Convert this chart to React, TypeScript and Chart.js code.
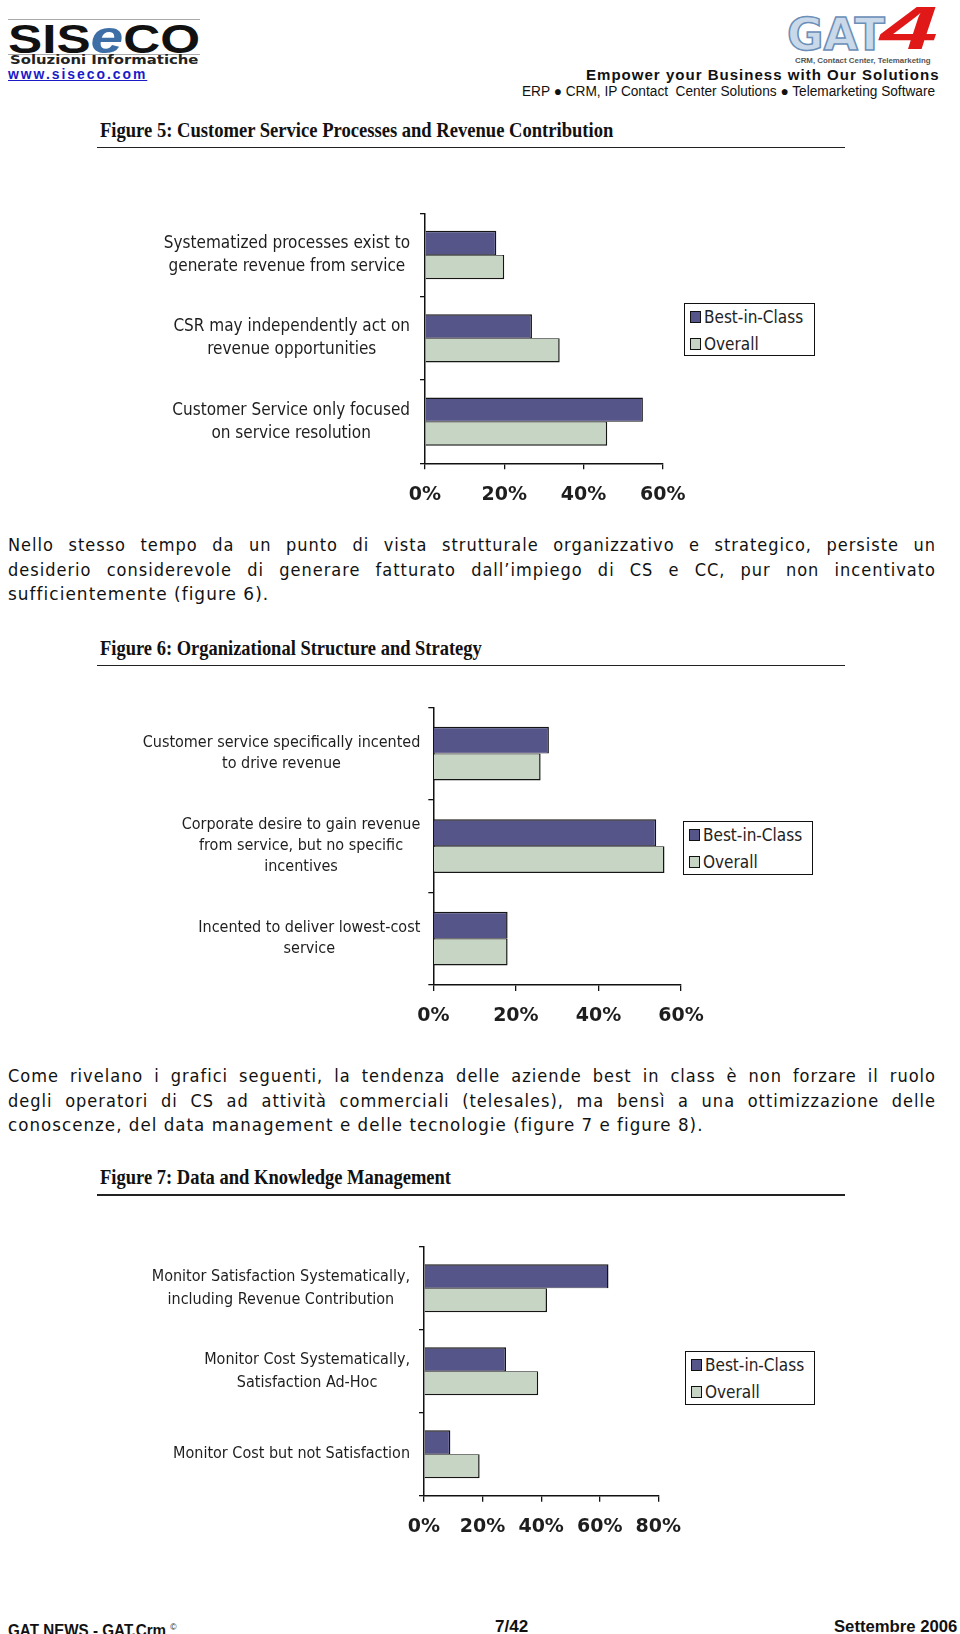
import React, { useEffect, useLayoutEffect, useRef, useState } from 'react';
import { Chart, registerables } from 'chart.js';

Chart.register(...registerables);

// ---------------- data ----------------
const SERIES_NAMES = ['Best-in-Class', 'Overall'];
const SERIES_COLORS = ['#56558a', '#c7d6c4'];

const fig5Categories = [
  ['Systematized processes exist to', 'generate revenue from service'],
  ['CSR may independently act on', 'revenue opportunities'],
  ['Customer Service only focused', 'on service resolution'],
];
const fig5BestInClass = [18, 27, 55];
const fig5Overall = [20, 34, 46];
const fig5TickValues = [0, 20, 40, 60];
const fig5TickLabels = ['0%', '20%', '40%', '60%'];

const fig6Categories = [
  ['Customer service specifically incented', 'to drive revenue'],
  ['Corporate desire to gain revenue', 'from service, but no specific', 'incentives'],
  ['Incented to deliver lowest-cost', 'service'],
];
const fig6BestInClass = [28, 54, 18];
const fig6Overall = [26, 56, 18];
const fig6TickValues = [0, 20, 40, 60];
const fig6TickLabels = ['0%', '20%', '40%', '60%'];

const fig7Categories = [
  ['Monitor Satisfaction Systematically,', 'including Revenue Contribution'],
  ['Monitor Cost Systematically,', 'Satisfaction Ad-Hoc'],
  ['Monitor Cost but not Satisfaction'],
];
const fig7BestInClass = [63, 28, 9];
const fig7Overall = [42, 39, 19];
const fig7TickValues = [0, 20, 40, 60, 80];
const fig7TickLabels = ['0%', '20%', '40%', '60%', '80%'];

// ---------------- helpers ----------------
const COND = '"DejaVu Sans Condensed", "DejaVu Sans", sans-serif';
const SERIF = '"Liberation Serif", "Times New Roman", serif';
const ARIAL = '"Liberation Sans", Arial, sans-serif';

function Fit(props: any) {
  const { x, cy, w, size, family = ARIAL, weight = 400, color = '#111', style = {}, children } = props;
  const ref = useRef<HTMLSpanElement>(null);
  const [s, setS] = useState(1);
  useLayoutEffect(() => {
    const el = ref.current;
    if (!el) return;
    const measure = () => {
      const nat = el.offsetWidth;
      if (nat > 0) setS(w / nat);
    };
    measure();
    let alive = true;
    const fonts = (document as any).fonts;
    if (fonts && fonts.ready) fonts.ready.then(() => alive && measure());
    const ro = new ResizeObserver(() => alive && measure());
    ro.observe(el);
    return () => {
      alive = false;
      ro.disconnect();
    };
  }, [w, size, family]);
  return (
    <span
      ref={ref}
      style={{
        position: 'absolute',
        left: x,
        top: cy - size / 2,
        lineHeight: `${size}px`,
        fontSize: size,
        fontFamily: family,
        fontWeight: weight,
        color,
        whiteSpace: 'nowrap',
        transformOrigin: 'left center',
        transform: `scaleX(${s})`,
        ...style,
      }}
    >
      {children}
    </span>
  );
}

function JLine({ cy, text }: { cy: number; text: string }) {
  return (
    <div
      style={{
        position: 'absolute',
        left: 8,
        top: cy - 12.5,
        width: 928,
        lineHeight: '25px',
        fontSize: 18,
        letterSpacing: 1.0,
        fontFamily: COND,
        color: '#111',
        textAlign: 'justify',
        textAlignLast: 'justify' as any,
      }}
    >
      {text}
    </div>
  );
}

function Legend({ x, y, w, h }: { x: number; y: number; w: number; h: number }) {
  return (
    <div
      style={{
        position: 'absolute',
        left: x,
        top: y,
        width: w,
        height: h,
        border: '1.5px solid #111',
        boxSizing: 'border-box',
        background: '#fff',
        fontFamily: COND,
        fontSize: 17,
        color: '#222',
      }}
    >
      {SERIES_NAMES.map((n, i) => (
        <div
          key={n}
          style={{
            position: 'absolute',
            left: 5,
            top: (i === 0 ? 13 : 40) - 9,
            height: 18,
            lineHeight: '18px',
            display: 'flex',
            alignItems: 'center',
            whiteSpace: 'nowrap',
          }}
        >
          <span
            style={{
              display: 'inline-block',
              width: 11,
              height: 12,
              boxSizing: 'border-box',
              border: '1.3px solid #111',
              background: SERIES_COLORS[i],
              marginRight: 3,
            }}
          />
          {n}
        </div>
      ))}
    </div>
  );
}

type FigProps = {
  cats: string[][];
  bic: number[];
  ovr: number[];
  tickValues: number[];
  tickLabels: string[];
  canvasTop: number;
  canvasH: number;
  plotLeft: number;
  plotRight: number;
  plotTop: number;
  plotBottom: number;
  labelSize: number;
  labelLH: number;
  labelGap: number;
};

function BarFigure(p: FigProps) {
  const ref = useRef<HTMLCanvasElement>(null);
  useEffect(() => {
    const c = ref.current!;
    const yLabelPlugin = {
      id: 'yLabels',
      afterDraw(chart: any) {
        const ctx = chart.ctx;
        const ys = chart.scales.y;
        ctx.save();
        ctx.font = `${p.labelSize}px ${COND}`;
        ctx.fillStyle = '#1e1e1e';
        ctx.textAlign = 'center';
        ctx.textBaseline = 'middle';
        p.cats.forEach((lines, i) => {
          const cy = ys.getPixelForTick(i);
          const maxW = Math.max(...lines.map((l) => ctx.measureText(l).width));
          const cx = chart.chartArea.left - p.labelGap - maxW / 2;
          lines.forEach((l, j) => ctx.fillText(l, cx, cy + (j - (lines.length - 1) / 2) * p.labelLH));
        });
        ctx.restore();
      },
    };
    const step = p.tickValues[1] - p.tickValues[0];
    const chart = new Chart(c, {
      type: 'bar',
      data: {
        labels: p.cats as any,
        datasets: [
          {
            label: SERIES_NAMES[0],
            data: p.bic,
            backgroundColor: SERIES_COLORS[0],
            borderColor: '#151515',
            borderWidth: { top: 1.5, right: 1.5, bottom: 0.8, left: 0 } as any,
            borderSkipped: false as any,
          },
          {
            label: SERIES_NAMES[1],
            data: p.ovr,
            backgroundColor: SERIES_COLORS[1],
            borderColor: '#151515',
            borderWidth: { top: 0.8, right: 1.5, bottom: 1.5, left: 0 } as any,
            borderSkipped: false as any,
          },
        ],
      },
      options: {
        indexAxis: 'y',
        responsive: false,
        maintainAspectRatio: false,
        animation: false,
        events: [],
        datasets: { bar: { categoryPercentage: 0.58, barPercentage: 1 } },
        layout: {
          padding: { left: 0, top: p.plotTop - p.canvasTop, right: 960 - p.plotRight, bottom: 0 },
        },
        plugins: { legend: { display: false }, tooltip: { enabled: false }, title: { display: false } },
        scales: {
          x: {
            type: 'linear',
            min: p.tickValues[0],
            max: p.tickValues[p.tickValues.length - 1],
            ticks: {
              stepSize: step,
              autoSkip: false,
              maxRotation: 0,
              callback: (_v: any, i: number) => p.tickLabels[i],
              color: '#1e1e1e',
              padding: 14,
              font: { family: '"DejaVu Sans", sans-serif', size: 19, weight: 'bold' },
            },
            grid: { drawOnChartArea: false, tickLength: 6, color: '#111', lineWidth: 1.3 },
            border: { color: '#111', width: 1.5 },
            afterFit: (s: any) => {
              s.height = p.canvasH - (p.plotBottom - p.canvasTop);
              s.paddingLeft = 0;
              s.paddingRight = 0;
            },
          },
          y: {
            ticks: { display: false },
            grid: { drawOnChartArea: false, tickLength: 5, color: '#111', lineWidth: 1.3, offset: true },
            border: { color: '#111', width: 1.5 },
            afterFit: (s: any) => {
              s.width = p.plotLeft;
              s.paddingTop = 0;
              s.paddingBottom = 0;
            },
          },
        },
      } as any,
      plugins: [yLabelPlugin],
    });
    return () => chart.destroy();
  }, []);
  return (
    <canvas
      ref={ref}
      width={960}
      height={p.canvasH}
      style={{ position: 'absolute', left: 0, top: p.canvasTop, width: 960, height: p.canvasH }}
    />
  );
}

function FigTitle({ cy, w, lineY, text }: { cy: number; w: number; lineY: number; text: string }) {
  return (
    <>
      <Fit x={100} cy={cy} w={w} size={21} family={SERIF} weight={700} color="#111">
        {text}
      </Fit>
      <div style={{ position: 'absolute', left: 97, top: lineY - 0.75, width: 748, height: 1.5, background: '#222' }} />
    </>
  );
}

export default function App() {
  return (
    <div
      style={{
        position: 'absolute',
        left: 0,
        top: 0,
        width: 960,
        height: 1634,
        overflow: 'hidden',
        background: '#fff',
      }}
    >
      {/* Header left: SISECO */}
      <div style={{ position: 'absolute', left: 8, top: 19, width: 192, height: 1, background: '#aaa' }} />
      <Fit x={8} cy={37} w={192} size={40} family={ARIAL} weight={900} color="#111">
        SIS<span style={{ color: '#3d6fa6', fontStyle: 'italic', fontSize: 46 }}>e</span>CO
      </Fit>
      <div style={{ position: 'absolute', left: 8, top: 54, width: 192, height: 1, background: '#aaa' }} />
      <Fit x={10} cy={59.5} w={188} size={12} family={'"DejaVu Sans", sans-serif'} weight={700} color="#222">
        Soluzioni Informatiche
      </Fit>
      <Fit x={8} cy={74} w={139} size={14} family={ARIAL} weight={700} color="#1a1ac8" style={{ textDecoration: 'underline', letterSpacing: 2 }}>
        www.siseco.com
      </Fit>

      {/* Header right: GAT4 */}
      <Fit x={787} cy={35} w={98} size={44} family={'"DejaVu Sans", sans-serif'} weight={700} color="#c9d9ea" style={{ WebkitTextStroke: '1.5px #6a8fb8' }}>
        GAT
      </Fit>
      <Fit x={880} cy={28} w={57} size={62} family={ARIAL} weight={700} color="#e01818" style={{ fontStyle: 'italic' }}>
        4
      </Fit>
      <Fit x={795} cy={60.5} w={135} size={7} family={ARIAL} weight={700} color="#555">
        CRM, Contact Center, Telemarketing
      </Fit>
      <Fit x={586} cy={74} w={354} size={15} family={ARIAL} weight={700} color="#111" style={{ letterSpacing: 1 }}>
        Empower your Business with Our Solutions
      </Fit>
      <Fit x={522} cy={91} w={413} size={14} family={ARIAL} weight={400} color="#111">
        ERP ● CRM, IP Contact&nbsp;&nbsp;Center Solutions ● Telemarketing Software
      </Fit>

      {/* Figure 5 */}
      <FigTitle cy={130} w={513} lineY={147.3} text="Figure 5: Customer Service Processes and Revenue Contribution" />
      <BarFigure
        cats={fig5Categories}
        bic={fig5BestInClass}
        ovr={fig5Overall}
        tickValues={fig5TickValues}
        tickLabels={fig5TickLabels}
        canvasTop={195}
        canvasH={320}
        plotLeft={425}
        plotRight={662.7}
        plotTop={213.3}
        plotBottom={463.3}
        labelSize={17}
        labelLH={23}
        labelGap={15}
      />
      <Legend x={684} y={303} w={131} h={53} />

      {/* Paragraph 1 */}
      <JLine cy={544} text="Nello stesso tempo da un punto di vista strutturale organizzativo e strategico, persiste un" />
      <JLine cy={569} text="desiderio considerevole di generare fatturato dall’impiego di CS e CC, pur non incentivato" />
      <Fit x={8} cy={594} w={261} size={18} family={COND} style={{ letterSpacing: 1.0 }}>
        sufficientemente (figure 6).
      </Fit>

      {/* Figure 6 */}
      <FigTitle cy={648} w={382} lineY={665.7} text="Figure 6: Organizational Structure and Strategy" />
      <BarFigure
        cats={fig6Categories}
        bic={fig6BestInClass}
        ovr={fig6Overall}
        tickValues={fig6TickValues}
        tickLabels={fig6TickLabels}
        canvasTop={690}
        canvasH={345}
        plotLeft={433.3}
        plotRight={681}
        plotTop={707.3}
        plotBottom={985}
        labelSize={16}
        labelLH={21}
        labelGap={13}
      />
      <Legend x={683} y={821} w={130} h={54} />

      {/* Paragraph 2 */}
      <JLine cy={1075.6} text="Come rivelano i grafici seguenti, la tendenza delle aziende best in class è non forzare il ruolo" />
      <JLine cy={1100.2} text="degli operatori di CS ad attività commerciali (telesales), ma bensì a una ottimizzazione delle" />
      <Fit x={8} cy={1124.8} w={695} size={18} family={COND} style={{ letterSpacing: 1.0 }}>
        conoscenze, del data management e delle tecnologie (figure 7 e figure 8).
      </Fit>

      {/* Figure 7 */}
      <FigTitle cy={1177.5} w={351} lineY={1195} text="Figure 7: Data and Knowledge Management" />
      <BarFigure
        cats={fig7Categories}
        bic={fig7BestInClass}
        ovr={fig7Overall}
        tickValues={fig7TickValues}
        tickLabels={fig7TickLabels}
        canvasTop={1230}
        canvasH={320}
        plotLeft={424}
        plotRight={658.3}
        plotTop={1246.7}
        plotBottom={1495.7}
        labelSize={16}
        labelLH={22.5}
        labelGap={14}
      />
      <Legend x={685} y={1351} w={130} h={54} />

      {/* Footer */}
      <Fit x={8} cy={1627} w={169} size={16} family={ARIAL} weight={700} color="#111">
        GAT NEWS - GAT.Crm <sup style={{ fontSize: 9, fontWeight: 400 }}>©</sup>
      </Fit>
      <Fit x={495} cy={1627} w={33} size={16} family={ARIAL} weight={700} color="#111">
        7/42
      </Fit>
      <Fit x={834} cy={1627} w={123} size={16} family={ARIAL} weight={700} color="#111">
        Settembre 2006
      </Fit>
    </div>
  );
}
